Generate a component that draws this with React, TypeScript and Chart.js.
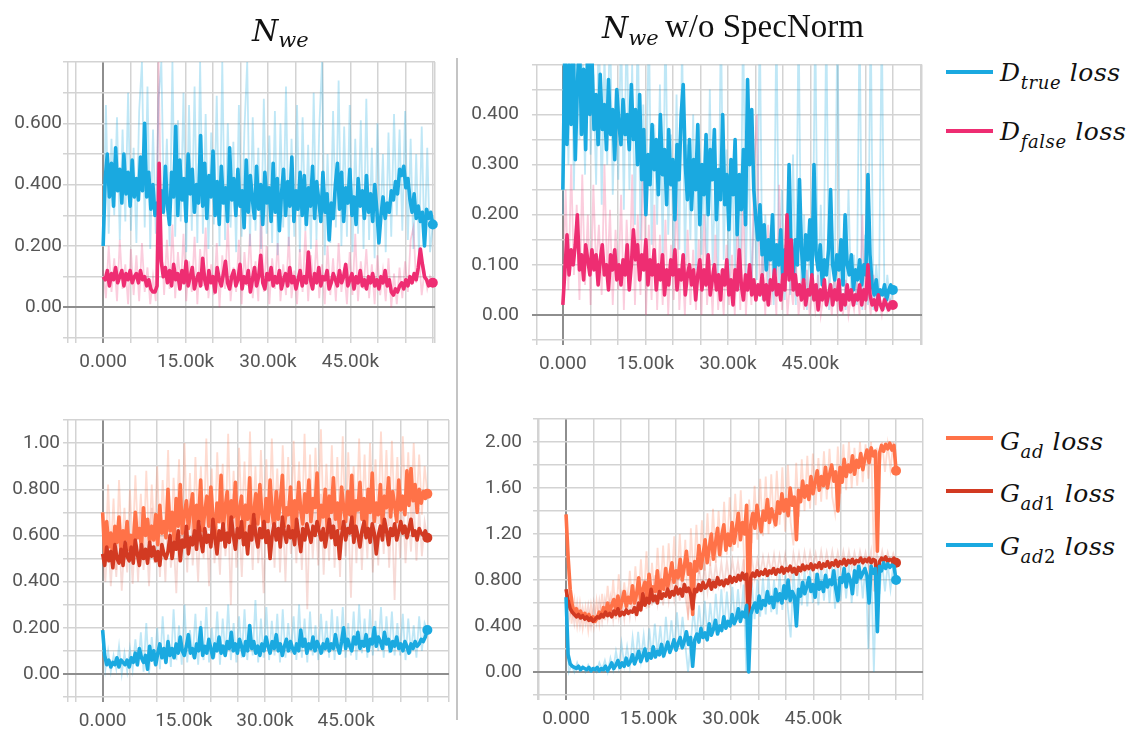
import React, { useEffect, useRef } from "react";
import { Chart, registerables } from "chart.js";

Chart.register(...registerables);

// ---------------- data ----------------
const X_END = 60000;
const X_TICK_VALUES = [0, 15000, 30000, 45000];
const X_TICK_LABELS = ["0.000", "15.00k", "30.00k", "45.00k"];

const P1_Y_VALUES = [0, 0.2, 0.4, 0.6];
const P1_Y_LABELS = ["0.00", "0.200", "0.400", "0.600"];
const P2_Y_VALUES = [0, 0.1, 0.2, 0.3, 0.4];
const P2_Y_LABELS = ["0.00", "0.100", "0.200", "0.300", "0.400"];
const P3_Y_VALUES = [0, 0.2, 0.4, 0.6, 0.8, 1.0];
const P3_Y_LABELS = ["0.00", "0.200", "0.400", "0.600", "0.800", "1.00"];
const P4_Y_VALUES = [0, 0.4, 0.8, 1.2, 1.6, 2.0];
const P4_Y_LABELS = ["0.00", "0.400", "0.800", "1.20", "1.60", "2.00"];

// Panel 1: N_we, D losses
const P1_TRUE_SMOOTH = [
  0.20, 0.42, 0.50, 0.36, 0.47, 0.33, 0.52, 0.38, 0.45, 0.34, 0.50, 0.37, 0.44, 0.33, 0.48, 0.36,
  0.42, 0.35, 0.49, 0.38, 0.60, 0.36, 0.44, 0.32, 0.40, 0.30, 0.34, 0.29, 0.38, 0.31, 0.46, 0.33,
  0.27, 0.44, 0.36, 0.59, 0.30, 0.48, 0.35, 0.42, 0.28, 0.50, 0.37, 0.45, 0.31, 0.40, 0.34, 0.56,
  0.33, 0.47, 0.29, 0.43, 0.36, 0.51, 0.30, 0.41, 0.27, 0.46, 0.34, 0.39, 0.28, 0.52, 0.35, 0.42,
  0.30, 0.45, 0.33, 0.38, 0.26, 0.48, 0.31, 0.43, 0.35, 0.29, 0.46, 0.32, 0.40, 0.27, 0.44, 0.34,
  0.39, 0.28, 0.47, 0.31, 0.42, 0.25, 0.37, 0.45, 0.30, 0.41, 0.33, 0.49, 0.28, 0.38, 0.32, 0.44,
  0.30, 0.43, 0.27, 0.39, 0.33, 0.46, 0.29, 0.41, 0.35, 0.28, 0.44, 0.31, 0.37, 0.22, 0.34, 0.29,
  0.40, 0.47, 0.32, 0.44, 0.28, 0.39, 0.34, 0.45, 0.30, 0.36, 0.27, 0.42, 0.33, 0.38, 0.29, 0.43,
  0.31, 0.37, 0.28, 0.40, 0.32, 0.21, 0.30, 0.36, 0.29, 0.34, 0.31, 0.38, 0.35, 0.41, 0.37, 0.45,
  0.43, 0.46, 0.39, 0.42, 0.35, 0.31, 0.37, 0.29, 0.33, 0.28, 0.31, 0.20, 0.32, 0.29, 0.31, 0.27,
];
const P1_FALSE_SMOOTH = [
  0.10, 0.09, 0.12, 0.07, 0.11, 0.09, 0.13, 0.08, 0.10, 0.12, 0.07, 0.11, 0.09, 0.12, 0.08, 0.10,
  0.11, 0.08, 0.12, 0.09, 0.10, 0.07, 0.09, 0.06, 0.05, 0.05, 0.07, 0.47, 0.15, 0.10, 0.13, 0.08,
  0.12, 0.07, 0.14, 0.09, 0.11, 0.06, 0.12, 0.08, 0.15, 0.07, 0.10, 0.13, 0.06, 0.09, 0.11, 0.07,
  0.16, 0.09, 0.06, 0.12, 0.08, 0.10, 0.05, 0.13, 0.09, 0.07, 0.11, 0.15, 0.08, 0.06, 0.10, 0.12,
  0.07, 0.09, 0.14, 0.06, 0.10, 0.08, 0.12, 0.05, 0.09, 0.13, 0.07, 0.10, 0.17, 0.08, 0.06, 0.11,
  0.09, 0.13, 0.07, 0.10, 0.08, 0.12, 0.06, 0.09, 0.11, 0.07, 0.13, 0.08, 0.10, 0.06, 0.09, 0.12,
  0.07, 0.10, 0.08, 0.18, 0.09, 0.06, 0.11, 0.08, 0.13, 0.07, 0.10, 0.09, 0.12, 0.06, 0.08, 0.11,
  0.09, 0.07, 0.12, 0.08, 0.10, 0.14, 0.07, 0.09, 0.11, 0.06, 0.10, 0.08, 0.12, 0.07, 0.09, 0.06,
  0.10, 0.08, 0.11, 0.07, 0.09, 0.06, 0.10, 0.08, 0.12, 0.07, 0.09, 0.05, 0.04, 0.06, 0.05, 0.07,
  0.08, 0.06, 0.09, 0.07, 0.10, 0.08, 0.11, 0.09, 0.13, 0.19, 0.14, 0.10, 0.09, 0.07, 0.08, 0.08,
];
const P1_TRUE_RAW = [
  0.20, 0.66, 0.24, 0.55, 0.30, 0.62, 0.22, 0.58, 0.28, 0.70, 0.25, 0.52,
  0.21, 0.64, 0.80, 0.26, 0.72, 0.19, 0.58, 0.24, 0.68, 0.80, 0.30, 0.55,
  0.20, 0.80, 0.23, 0.61, 0.28, 0.70, 0.18, 0.66, 0.25, 0.72, 0.21, 0.80,
  0.24, 0.63, 0.19, 0.57, 0.27, 0.69, 0.20, 0.80, 0.22, 0.60, 0.26, 0.54,
  0.18, 0.66, 0.23, 0.58, 0.80, 0.20, 0.62, 0.25, 0.52, 0.19, 0.68, 0.24,
  0.56, 0.21, 0.64, 0.17, 0.60, 0.26, 0.72, 0.20, 0.55, 0.23, 0.66, 0.18,
  0.62, 0.25, 0.53, 0.19, 0.70, 0.22, 0.58, 0.80, 0.17, 0.50, 0.21, 0.64,
  0.26, 0.74, 0.20, 0.59, 0.23, 0.66, 0.18, 0.55, 0.24, 0.61, 0.19, 0.68,
  0.22, 0.52, 0.16, 0.60, 0.25, 0.50, 0.18, 0.57, 0.23, 0.63, 0.30, 0.58,
  0.25, 0.64, 0.22, 0.55, 0.19, 0.50, 0.17, 0.59, 0.20, 0.52, 0.18, 0.27,
];
const P1_FALSE_RAW = [
  0.12, 0.03, 0.20, 0.05, 0.16, 0.02, 0.22, 0.06, 0.14, 0.01, 0.19, 0.04,
  0.17, 0.02, 0.21, 0.05, 0.13, 0.01, 0.10, 0.02, 0.80, 0.25, 0.04, 0.22,
  0.06, 0.27, 0.03, 0.18, 0.06, 0.24, 0.02, 0.15, 0.05, 0.23, 0.01, 0.19,
  0.07, 0.26, 0.03, 0.14, 0.04, 0.21, 0.00, 0.17, 0.06, 0.28, 0.02, 0.13,
  0.05, 0.22, 0.01, 0.18, 0.07, 0.24, 0.03, 0.15, 0.02, 0.30, 0.05, 0.20,
  0.01, 0.16, 0.06, 0.21, 0.02, 0.14, 0.04, 0.23, 0.03, 0.12, 0.01, 0.19,
  0.05, 0.25, 0.02, 0.17, 0.06, 0.22, 0.03, 0.14, 0.01, 0.20, 0.04, 0.16,
  0.02, 0.21, 0.05, 0.13, 0.01, 0.18, 0.04, 0.24, 0.02, 0.15, 0.06, 0.19,
  0.03, 0.14, 0.01, 0.17, 0.04, 0.12, 0.02, 0.16, 0.00, 0.11, 0.01, 0.13,
  0.03, 0.15, 0.05, 0.22, 0.26, 0.08, 0.17, 0.04, 0.12, 0.06, 0.10, 0.08,
];

// Panel 2: N_we w/o SpecNorm, D losses
const P2_TRUE_SMOOTH = [
  0.25, 0.55, 0.34, 0.50, 0.38, 0.55, 0.31, 0.46, 0.55, 0.36, 0.49, 0.33, 0.55, 0.40, 0.52, 0.37,
  0.44, 0.34, 0.48, 0.37, 0.42, 0.33, 0.47, 0.36, 0.41, 0.31, 0.45, 0.38, 0.34, 0.43, 0.36, 0.40,
  0.33, 0.46, 0.35, 0.41, 0.30, 0.44, 0.27, 0.37, 0.20, 0.32, 0.26, 0.38, 0.29, 0.35, 0.24, 0.40,
  0.28, 0.33, 0.22, 0.37, 0.26, 0.31, 0.19, 0.34, 0.27, 0.40, 0.46, 0.30, 0.23, 0.35, 0.21, 0.31,
  0.25, 0.38, 0.18, 0.30, 0.24, 0.36, 0.20, 0.33, 0.27, 0.37, 0.19, 0.29, 0.23, 0.40, 0.22, 0.28,
  0.17, 0.31, 0.24, 0.35, 0.16, 0.28, 0.21, 0.33, 0.18, 0.47, 0.30, 0.41, 0.25, 0.19, 0.15, 0.22,
  0.12, 0.18, 0.09, 0.15, 0.11, 0.20, 0.08, 0.14, 0.10, 0.17, 0.07, 0.13, 0.09, 0.30, 0.12, 0.08,
  0.15, 0.10, 0.27, 0.13, 0.07, 0.16, 0.11, 0.19, 0.08, 0.30, 0.12, 0.09, 0.14, 0.06, 0.11, 0.08,
  0.13, 0.25, 0.10, 0.07, 0.12, 0.09, 0.15, 0.06, 0.20, 0.10, 0.08, 0.12, 0.05, 0.09, 0.07, 0.11,
  0.06, 0.10, 0.08, 0.28, 0.12, 0.06, 0.04, 0.07, 0.03, 0.05, 0.04, 0.06, 0.03, 0.05, 0.06, 0.05,
];
const P2_FALSE_SMOOTH = [
  0.02, 0.09, 0.16, 0.08, 0.13, 0.10, 0.14, 0.20, 0.09, 0.12, 0.07, 0.14, 0.11, 0.08, 0.13, 0.09,
  0.12, 0.06, 0.11, 0.14, 0.08, 0.10, 0.05, 0.12, 0.09, 0.13, 0.07, 0.10, 0.06, 0.11, 0.08, 0.14,
  0.05, 0.10, 0.17, 0.11, 0.14, 0.07, 0.12, 0.09, 0.15, 0.06, 0.11, 0.08, 0.13, 0.05, 0.10, 0.07,
  0.12, 0.04, 0.09, 0.06, 0.11, 0.08, 0.13, 0.05, 0.09, 0.07, 0.12, 0.04, 0.08, 0.10, 0.06, 0.09,
  0.03, 0.08, 0.11, 0.05, 0.09, 0.06, 0.12, 0.04, 0.07, 0.10, 0.05, 0.08, 0.03, 0.09, 0.06, 0.11,
  0.04, 0.07, 0.02, 0.09, 0.05, 0.13, 0.06, 0.03, 0.08, 0.05, 0.10, 0.04, 0.07, 0.03, 0.06, 0.04,
  0.08, 0.03, 0.06, 0.02, 0.07, 0.05, 0.09, 0.04, 0.06, 0.03, 0.08, 0.05, 0.20, 0.07, 0.15, 0.05,
  0.08, 0.04, 0.06, 0.03, 0.07, 0.02, 0.05, 0.04, 0.08, 0.03, 0.06, 0.01, 0.05, 0.03, 0.07, 0.02,
  0.04, 0.06, 0.02, 0.05, 0.03, 0.07, 0.01, 0.04, 0.02, 0.06, 0.03, 0.05, 0.02, 0.04, 0.03, 0.06,
  0.02, 0.05, 0.03, 0.10, 0.04, 0.02, 0.03, 0.01, 0.04, 0.02, 0.01, 0.03, 0.02, 0.01, 0.02, 0.02,
];
const P2_TRUE_RAW = [
  0.20, 0.60, 0.30, 0.60, 0.25, 0.60, 0.35, 0.55, 0.28, 0.60, 0.32, 0.48,
  0.26, 0.60, 0.22, 0.52, 0.30, 0.60, 0.24, 0.45, 0.27, 0.58, 0.21, 0.60,
  0.25, 0.50, 0.18, 0.60, 0.15, 0.42, 0.20, 0.60, 0.14, 0.38, 0.18, 0.46,
  0.12, 0.60, 0.16, 0.36, 0.10, 0.44, 0.13, 0.55, 0.11, 0.34, 0.15, 0.40,
  0.09, 0.38, 0.12, 0.30, 0.08, 0.45, 0.10, 0.28, 0.07, 0.60, 0.11, 0.33,
  0.06, 0.30, 0.09, 0.26, 0.05, 0.60, 0.08, 0.35, 0.04, 0.22, 0.07, 0.60,
  0.03, 0.20, 0.06, 0.18, 0.02, 0.60, 0.05, 0.25, 0.03, 0.17, 0.04, 0.32,
  0.02, 0.60, 0.04, 0.20, 0.01, 0.15, 0.03, 0.60, 0.02, 0.22, 0.04, 0.60,
  0.01, 0.18, 0.03, 0.60, 0.02, 0.14, 0.01, 0.25, 0.03, 0.12, 0.02, 0.60,
  0.01, 0.16, 0.02, 0.60, 0.01, 0.10, 0.03, 0.60, 0.01, 0.08, 0.02, 0.05,
];
const P2_FALSE_RAW = [
  0.02, 0.25, 0.05, 0.30, 0.08, 0.22, 0.03, 0.28, 0.06, 0.20, 0.02, 0.26,
  0.09, 0.18, 0.04, 0.30, 0.07, 0.21, 0.02, 0.17, 0.05, 0.24, 0.01, 0.19,
  0.06, 0.28, 0.02, 0.20, 0.04, 0.35, 0.00, 0.18, 0.03, 0.22, 0.01, 0.16,
  0.02, 0.19, 0.00, 0.14, 0.03, 0.25, 0.01, 0.12, 0.00, 0.17, 0.02, 0.13,
  0.01, 0.15, 0.00, 0.20, 0.02, 0.11, 0.00, 0.16, 0.01, 0.09, 0.00, 0.14,
  0.02, 0.12, 0.00, 0.18, 0.01, 0.24, 0.00, 0.10, 0.02, 0.30, 0.40, 0.05,
  0.12, 0.00, 0.18, 0.02, 0.09, 0.00, 0.26, 0.01, 0.14, 0.00, 0.07, 0.02,
  0.11, 0.00, 0.06, 0.01, 0.09, 0.00, 0.05, 0.01, 0.08, 0.00, 0.04, 0.02,
  0.06, 0.00, 0.09, 0.01, 0.05, 0.00, 0.07, 0.00, 0.04, 0.01, 0.06, 0.00,
  0.20, 0.01, 0.05, 0.00, 0.08, 0.01, 0.03, 0.00, 0.05, 0.01, 0.03, 0.02,
];

// Panel 3: N_we, G losses
const P3_GAD_SMOOTH = [
  0.70, 0.52, 0.66, 0.55, 0.61, 0.50, 0.64, 0.57, 0.68, 0.53, 0.62, 0.58, 0.66, 0.54, 0.60, 0.56,
  0.70, 0.59, 0.63, 0.55, 0.72, 0.60, 0.67, 0.57, 0.64, 0.58, 0.69, 0.56, 0.73, 0.61, 0.66, 0.59,
  0.80, 0.62, 0.70, 0.58, 0.76, 0.64, 0.82, 0.61, 0.69, 0.75, 0.63, 0.71, 0.78, 0.60, 0.73, 0.66,
  0.84, 0.62, 0.70, 0.77, 0.64, 0.81, 0.68, 0.59, 0.74, 0.66, 0.86, 0.63, 0.72, 0.79, 0.61, 0.75,
  0.68, 0.83, 0.64, 0.71, 0.77, 0.60, 0.73, 0.67, 0.85, 0.62, 0.70, 0.78, 0.65, 0.82, 0.69, 0.61,
  0.76, 0.66, 0.84, 0.70, 0.63, 0.79, 0.67, 0.74, 0.86, 0.64, 0.72, 0.69, 0.81, 0.62, 0.75, 0.68,
  0.83, 0.71, 0.65, 0.78, 0.70, 0.84, 0.66, 0.76, 0.72, 0.87, 0.64, 0.73, 0.68, 0.80, 0.62, 0.77,
  0.70, 0.85, 0.67, 0.74, 0.63, 0.81, 0.72, 0.66, 0.79, 0.69, 0.86, 0.64, 0.75, 0.71, 0.83, 0.67,
  0.76, 0.62, 0.80, 0.70, 0.87, 0.66, 0.74, 0.69, 0.82, 0.64, 0.77, 0.72, 0.85, 0.68, 0.79, 0.73,
  0.66, 0.84, 0.71, 0.77, 0.69, 0.88, 0.73, 0.89, 0.75, 0.82, 0.70, 0.80, 0.74, 0.79, 0.76, 0.78,
];
const P3_GAD1_SMOOTH = [
  0.52, 0.47, 0.55, 0.49, 0.53, 0.46, 0.56, 0.50, 0.48, 0.54, 0.47, 0.57, 0.51, 0.49, 0.55, 0.48,
  0.58, 0.52, 0.47, 0.56, 0.50, 0.54, 0.48, 0.57, 0.51, 0.55, 0.49, 0.53, 0.47, 0.56, 0.52, 0.50,
  0.53, 0.60, 0.50, 0.57, 0.54, 0.62, 0.49, 0.58, 0.55, 0.64, 0.52, 0.59, 0.56, 0.62, 0.54, 0.66,
  0.58, 0.53, 0.63, 0.57, 0.60, 0.55, 0.67, 0.59, 0.52, 0.62, 0.58, 0.65, 0.55, 0.61, 0.57, 0.68,
  0.60, 0.54, 0.63, 0.59, 0.66, 0.56, 0.61, 0.52, 0.64, 0.58, 0.69, 0.60, 0.55, 0.63, 0.59, 0.66,
  0.57, 0.62, 0.50, 0.60, 0.65, 0.58, 0.63, 0.55, 0.68, 0.61, 0.57, 0.64, 0.59, 0.62, 0.56, 0.67,
  0.60, 0.53, 0.63, 0.58, 0.65, 0.61, 0.57, 0.64, 0.60, 0.66, 0.62, 0.58, 0.63, 0.55, 0.61, 0.67,
  0.59, 0.64, 0.56, 0.62, 0.50, 0.60, 0.66, 0.58, 0.63, 0.61, 0.68, 0.57, 0.64, 0.60, 0.55, 0.62,
  0.66, 0.59, 0.63, 0.57, 0.65, 0.61, 0.52, 0.60, 0.64, 0.58, 0.67, 0.62, 0.56, 0.63, 0.60, 0.65,
  0.58, 0.62, 0.66, 0.61, 0.64, 0.59, 0.63, 0.67, 0.60, 0.62, 0.58, 0.63, 0.61, 0.60, 0.62, 0.59,
];
const P3_GAD2_SMOOTH = [
  0.19, 0.08, 0.04, 0.06, 0.03, 0.05, 0.04, 0.07, 0.03, 0.06, 0.05, 0.04, 0.06, 0.03, 0.07, 0.05,
  0.09, 0.04, 0.11, 0.07, 0.05, 0.08, 0.02, 0.12, 0.06, 0.10, 0.04, 0.09, 0.13, 0.07, 0.11, 0.05,
  0.14, 0.08, 0.11, 0.07, 0.13, 0.09, 0.16, 0.10, 0.08, 0.12, 0.17, 0.09, 0.11, 0.07, 0.13, 0.10,
  0.20, 0.08, 0.12, 0.09, 0.15, 0.11, 0.07, 0.13, 0.10, 0.16, 0.09, 0.12, 0.08, 0.14, 0.11, 0.18,
  0.10, 0.13, 0.09, 0.15, 0.12, 0.08, 0.14, 0.10, 0.21, 0.11, 0.14, 0.09, 0.12, 0.08, 0.13, 0.10,
  0.16, 0.12, 0.09, 0.14, 0.11, 0.17, 0.10, 0.13, 0.08, 0.12, 0.15, 0.10, 0.14, 0.11, 0.09, 0.13,
  0.10, 0.19, 0.12, 0.15, 0.09, 0.13, 0.11, 0.16, 0.10, 0.14, 0.12, 0.09, 0.13, 0.11, 0.15, 0.10,
  0.13, 0.11, 0.17, 0.12, 0.09, 0.14, 0.20, 0.11, 0.15, 0.12, 0.10, 0.16, 0.13, 0.18, 0.11, 0.14,
  0.12, 0.17, 0.10, 0.15, 0.13, 0.20, 0.12, 0.16, 0.14, 0.11, 0.18, 0.13, 0.15, 0.10, 0.14, 0.12,
  0.16, 0.11, 0.13, 0.10, 0.14, 0.12, 0.09, 0.13, 0.11, 0.14, 0.12, 0.13, 0.15, 0.14, 0.16, 0.19,
];
const P3_GAD_RAW = [
  0.70, 0.48, 0.82, 0.52, 0.76, 0.45, 0.84, 0.55, 0.72, 0.50, 0.80, 0.54,
  0.86, 0.58, 0.78, 0.53, 0.88, 0.56, 0.82, 0.60, 0.90, 0.55, 0.84, 0.62,
  0.97, 0.54, 0.85, 0.63, 0.93, 0.57, 1.00, 0.61, 0.87, 0.55, 0.94, 0.64,
  0.90, 0.58, 1.02, 0.62, 0.89, 0.56, 0.96, 0.65, 0.91, 0.59, 1.04, 0.63,
  0.88, 0.57, 0.98, 0.66, 0.92, 0.60, 1.05, 0.64, 0.90, 0.58, 0.97, 0.67,
  0.93, 0.61, 1.02, 0.65, 0.89, 0.62, 0.99, 0.68, 0.94, 0.63, 1.01, 0.66,
  0.92, 0.60, 1.04, 0.64, 0.95, 0.62, 0.98, 0.66, 1.06, 0.63, 0.91, 0.67,
  0.99, 0.61, 0.94, 0.65, 1.03, 0.62, 0.96, 0.68, 0.90, 0.64, 1.02, 0.66,
  0.95, 0.63, 1.00, 0.67, 0.93, 0.65, 1.05, 0.69, 0.97, 0.64, 1.01, 0.68,
  0.94, 0.66, 1.03, 0.70, 0.96, 0.67, 1.00, 0.72, 0.95, 0.69, 0.90, 0.78,
];
const P3_GAD1_RAW = [
  0.52, 0.40, 0.60, 0.38, 0.58, 0.42, 0.63, 0.36, 0.57, 0.44, 0.61, 0.39,
  0.65, 0.40, 0.70, 0.45, 0.62, 0.38, 0.72, 0.48, 0.66, 0.42, 0.64, 0.40,
  0.74, 0.46, 0.58, 0.35, 0.71, 0.49, 0.68, 0.44, 0.76, 0.47, 0.63, 0.40,
  0.73, 0.50, 0.69, 0.38, 0.77, 0.48, 0.64, 0.43, 0.75, 0.51, 0.70, 0.30,
  0.78, 0.46, 0.67, 0.42, 0.74, 0.52, 0.71, 0.45, 0.79, 0.48, 0.62, 0.35,
  0.76, 0.50, 0.72, 0.46, 0.80, 0.44, 0.70, 0.40, 0.75, 0.52, 0.69, 0.48,
  0.77, 0.45, 0.73, 0.28, 0.76, 0.50, 0.71, 0.47, 0.78, 0.43, 0.72, 0.49,
  0.80, 0.46, 0.74, 0.42, 0.77, 0.51, 0.70, 0.33, 0.75, 0.48, 0.79, 0.45,
  0.73, 0.50, 0.78, 0.44, 0.71, 0.47, 0.76, 0.52, 0.80, 0.46, 0.72, 0.32,
  0.75, 0.50, 0.77, 0.48, 0.70, 0.53, 0.76, 0.49, 0.72, 0.51, 0.66, 0.59,
];
const P3_GAD2_RAW = [
  0.19, 0.02, 0.10, 0.01, 0.08, 0.02, 0.12, 0.00, 0.09, 0.01, 0.11, 0.02,
  0.15, 0.03, 0.18, 0.01, 0.22, 0.00, 0.16, 0.04, 0.20, 0.02, 0.25, 0.05,
  0.17, 0.03, 0.28, 0.06, 0.21, 0.04, 0.30, 0.05, 0.19, 0.07, 0.26, 0.04,
  0.23, 0.06, 0.29, 0.05, 0.20, 0.07, 0.27, 0.04, 0.24, 0.08, 0.30, 0.06,
  0.22, 0.05, 0.25, 0.07, 0.28, 0.06, 0.21, 0.08, 0.32, 0.05, 0.24, 0.07,
  0.29, 0.06, 0.23, 0.08, 0.26, 0.05, 0.28, 0.07, 0.22, 0.09, 0.25, 0.06,
  0.30, 0.07, 0.24, 0.05, 0.27, 0.08, 0.21, 0.06, 0.26, 0.09, 0.23, 0.07,
  0.28, 0.06, 0.25, 0.09, 0.29, 0.07, 0.22, 0.08, 0.27, 0.06, 0.30, 0.09,
  0.24, 0.07, 0.28, 0.08, 0.23, 0.10, 0.29, 0.07, 0.25, 0.09, 0.27, 0.08,
  0.22, 0.08, 0.26, 0.06, 0.24, 0.09, 0.21, 0.07, 0.25, 0.10, 0.22, 0.19,
];

// Panel 4: N_we w/o SpecNorm, G losses
const P4_GAD_SMOOTH = [
  1.37, 1.00, 0.72, 0.58, 0.52, 0.55, 0.49, 0.53, 0.48, 0.51, 0.47, 0.50, 0.45, 0.48, 0.44, 0.47,
  0.52, 0.48, 0.56, 0.50, 0.60, 0.52, 0.58, 0.63, 0.53, 0.66, 0.55, 0.62, 0.70, 0.57, 0.65, 0.60,
  0.75, 0.60, 0.68, 0.82, 0.62, 0.72, 0.78, 0.64, 0.85, 0.68, 0.74, 0.70, 0.88, 0.66, 0.80, 0.72,
  0.90, 0.74, 0.84, 0.95, 0.78, 0.88, 0.82, 0.98, 0.80, 0.92, 1.05, 0.85, 0.94, 0.50, 0.96, 0.88,
  1.10, 0.90, 1.02, 1.15, 0.95, 1.08, 1.20, 0.98, 1.12, 1.25, 1.02, 1.18, 1.28, 1.06, 1.20, 1.10,
  1.30, 1.12, 1.24, 1.38, 1.15, 1.30, 1.20, 1.45, 0.45, 1.28, 1.38, 1.25, 1.45, 1.32, 1.22, 1.40,
  1.32, 1.50, 1.30, 1.42, 1.35, 1.28, 1.48, 1.38, 1.55, 1.40, 1.50, 1.36, 1.60, 1.45, 1.52, 1.15,
  1.58, 1.48, 1.66, 1.52, 1.62, 1.50, 1.70, 1.55, 1.65, 1.75, 1.58, 1.70, 1.62, 1.78, 1.60, 1.72,
  1.80, 1.66, 1.74, 1.40, 1.78, 1.65, 1.85, 1.70, 1.80, 1.74, 1.88, 1.72, 1.84, 1.78, 1.90, 1.76,
  1.86, 1.93, 1.82, 1.95, 1.88, 1.92, 1.05, 1.90, 1.97, 1.92, 1.98, 1.94, 1.99, 1.93, 1.97, 1.75,
];
const P4_GAD1_SMOOTH = [
  0.72, 0.62, 0.55, 0.52, 0.50, 0.48, 0.50, 0.47, 0.49, 0.46, 0.48, 0.45, 0.47, 0.44, 0.46, 0.48,
  0.47, 0.50, 0.48, 0.52, 0.49, 0.51, 0.48, 0.53, 0.50, 0.55, 0.49, 0.52, 0.50, 0.54, 0.51, 0.53,
  0.52, 0.56, 0.50, 0.60, 0.54, 0.68, 0.58, 0.64, 0.60, 0.72, 0.62, 0.66, 0.60, 0.70, 0.64, 0.68,
  0.66, 0.72, 0.65, 0.70, 0.67, 0.74, 0.68, 0.72, 0.66, 0.76, 0.70, 0.73, 0.68, 0.55, 0.72, 0.70,
  0.76, 0.71, 0.78, 0.73, 0.75, 0.80, 0.72, 0.78, 0.74, 0.82, 0.76, 0.79, 0.75, 0.80, 0.77, 0.83,
  0.78, 0.82, 0.79, 0.84, 0.80, 0.86, 0.81, 0.85, 0.45, 0.82, 0.86, 0.83, 0.88, 0.84, 0.87, 0.85,
  0.89, 0.84, 0.88, 0.86, 0.90, 0.85, 0.89, 0.87, 0.91, 0.86, 0.90, 0.88, 0.92, 0.87, 0.90, 0.85,
  0.91, 0.88, 0.93, 0.89, 0.92, 0.90, 0.94, 0.89, 0.93, 0.91, 0.95, 0.90, 0.94, 0.92, 0.96, 0.91,
  0.95, 0.93, 0.97, 0.92, 0.96, 0.94, 0.98, 0.93, 0.97, 0.95, 0.98, 0.94, 0.97, 0.96, 0.99, 0.95,
  0.98, 0.96, 0.99, 0.95, 0.98, 0.97, 0.70, 0.96, 0.99, 0.97, 1.00, 0.96, 0.98, 0.97, 0.99, 0.95,
];
const P4_GAD2_SMOOTH = [
  0.65, 0.15, 0.07, 0.05, 0.04, 0.03, 0.05, 0.02, 0.04, 0.03, 0.02, 0.04, 0.01, 0.03, 0.02, 0.04,
  0.01, 0.03, 0.02, 0.05, 0.01, 0.04, 0.08, 0.03, 0.06, 0.10, 0.04, 0.08, 0.05, 0.12, 0.06, 0.09,
  0.15, 0.07, 0.12, 0.18, 0.09, 0.14, 0.20, 0.10, 0.16, 0.12, 0.22, 0.13, 0.18, 0.15, 0.24, 0.14,
  0.20, 0.26, 0.17, 0.22, 0.28, 0.19, 0.25, 0.30, 0.21, 0.27, 0.35, 0.24, 0.30, 0.05, 0.28, 0.33,
  0.26, 0.38, 0.30, 0.34, 0.28, 0.42, 0.32, 0.37, 0.45, 0.33, 0.40, 0.36, 0.48, 0.38, 0.44, 0.40,
  0.50, 0.42, 0.46, 0.55, 0.44, 0.52, 0.48, 0.58, 0.00, 0.50, 0.56, 0.60, 0.52, 0.66, 0.55, 0.62,
  0.58, 0.70, 0.60, 0.65, 0.56, 0.72, 0.62, 0.68, 0.60, 0.75, 0.64, 0.80, 0.62, 0.70, 0.66, 0.40,
  0.72, 0.66, 0.78, 0.68, 0.74, 0.82, 0.70, 0.76, 0.65, 0.85, 0.72, 0.78, 0.70, 0.84, 0.74, 0.80,
  0.76, 0.88, 0.72, 0.62, 0.82, 0.78, 0.90, 0.74, 0.85, 0.80, 0.68, 0.88, 0.78, 0.92, 0.82, 0.86,
  0.90, 0.84, 0.60, 0.92, 0.86, 0.90, 0.35, 0.92, 0.88, 0.95, 0.90, 0.94, 0.91, 0.93, 0.92, 0.80,
];
const P4_GAD_RAW = [
  1.37, 0.75, 0.42, 0.62, 0.40, 0.60, 0.38, 0.56, 0.36, 0.58, 0.40, 0.62,
  0.42, 0.68, 0.45, 0.75, 0.48, 0.80, 0.46, 0.85, 0.50, 0.78, 0.52, 0.88,
  0.55, 0.92, 0.58, 0.98, 0.60, 1.05, 0.56, 0.95, 0.62, 1.08, 0.66, 1.10,
  0.68, 1.12, 0.72, 1.18, 0.70, 1.20, 0.75, 1.15, 0.45, 1.25, 0.80, 1.28,
  0.85, 1.32, 0.88, 1.38, 0.92, 1.42, 0.95, 1.40, 1.00, 1.48, 1.02, 1.52,
  1.05, 1.55, 1.08, 1.58, 1.10, 0.42, 1.50, 1.12, 1.62, 1.15, 1.68, 1.18,
  1.70, 1.20, 1.72, 1.25, 1.75, 1.28, 1.78, 1.22, 1.80, 1.30, 1.10, 1.82,
  1.35, 1.85, 1.40, 1.88, 1.42, 1.90, 1.45, 1.86, 1.48, 1.92, 1.50, 1.94,
  1.52, 1.38, 1.96, 1.55, 1.98, 1.58, 2.00, 1.60, 1.95, 1.62, 2.00, 1.65,
  1.98, 1.68, 2.00, 1.00, 1.95, 1.72, 2.00, 1.74, 1.98, 1.76, 2.00, 1.75,
];
const P4_GAD1_RAW = [
  0.72, 0.45, 0.58, 0.42, 0.60, 0.40, 0.56, 0.42, 0.58, 0.40, 0.60, 0.43,
  0.62, 0.44, 0.63, 0.46, 0.65, 0.45, 0.64, 0.47, 0.66, 0.46, 0.68, 0.48,
  0.70, 0.50, 0.76, 0.52, 0.80, 0.55, 0.82, 0.58, 0.84, 0.60, 0.82, 0.58,
  0.85, 0.62, 0.86, 0.64, 0.88, 0.62, 0.87, 0.65, 0.50, 0.68, 0.88, 0.70,
  0.90, 0.72, 0.92, 0.70, 0.93, 0.74, 0.94, 0.76, 0.95, 0.75, 0.96, 0.78,
  0.97, 0.80, 0.96, 0.78, 0.98, 0.45, 0.80, 0.99, 0.82, 0.98, 0.84, 1.00,
  0.85, 1.00, 0.86, 1.02, 0.84, 1.01, 0.86, 1.02, 0.87, 0.80, 1.03, 0.88,
  1.03, 0.88, 1.04, 0.89, 1.04, 0.90, 1.03, 0.89, 1.05, 0.90, 1.04, 0.91,
  1.05, 0.90, 1.04, 0.91, 1.05, 0.92, 1.05, 0.91, 1.04, 0.92, 1.05, 0.93,
  1.04, 0.92, 1.05, 0.70, 1.04, 0.93, 1.05, 0.92, 1.04, 0.94, 1.03, 0.95,
];
const P4_GAD2_RAW = [
  0.65, 0.00, 0.06, 0.00, 0.08, 0.01, 0.05, 0.00, 0.06, 0.01, 0.04, 0.00,
  0.08, 0.02, 0.10, 0.00, 0.12, 0.02, 0.18, 0.04, 0.25, 0.06, 0.22, 0.05,
  0.30, 0.08, 0.35, 0.10, 0.32, 0.08, 0.38, 0.12, 0.42, 0.15, 0.40, 0.12,
  0.48, 0.18, 0.45, 0.20, 0.52, 0.22, 0.48, 0.24, 0.00, 0.26, 0.55, 0.28,
  0.58, 0.30, 0.62, 0.32, 0.60, 0.34, 0.68, 0.36, 0.72, 0.38, 0.70, 0.40,
  0.74, 0.42, 0.72, 0.44, 0.76, 0.00, 0.45, 0.78, 0.46, 0.80, 0.48, 0.82,
  0.50, 0.84, 0.52, 0.80, 0.50, 0.86, 0.54, 0.84, 0.55, 0.30, 0.88, 0.56,
  0.86, 0.58, 0.88, 0.57, 0.90, 0.60, 0.86, 0.58, 0.92, 0.62, 0.90, 0.60,
  0.92, 0.55, 0.94, 0.62, 0.92, 0.64, 0.95, 0.60, 0.93, 0.66, 0.95, 0.64,
  0.94, 0.20, 0.95, 0.00, 0.92, 0.68, 0.95, 0.70, 0.94, 0.72, 0.93, 0.80,
];

// ---------------- styles ----------------
const BLUE = "#1aa9e0";
const PINK = "#ee2d72";
const ORANGE = "#ff7248";
const DARKRED = "#d23a22";
const BLUE_RAW = "rgba(26,169,224,0.28)";
const PINK_RAW = "rgba(238,45,114,0.24)";
const ORANGE_RAW = "rgba(255,114,72,0.26)";
const DARKRED_RAW = "rgba(210,58,34,0.18)";
const GRID_COLOR = "#d3d3d3";
const ZERO_COLOR = "#8e8e8e";
const TICK_COLOR = "#555555";

type SeriesCfg = { smooth: number[]; raw: number[]; color: string; rawColor: string; z: number };
type PanelCfg = {
  left: number; top: number; width: number; height: number;
  yWidth: number; xHeight: number; padTop: number; padRight: number; yPad: number;
  xMin: number; xMax: number; yMin: number; yMax: number; yStep: number;
  yValues: number[]; yLabels: string[]; series: SeriesCfg[];
};

const PANELS: PanelCfg[] = [
  {
    left: 0, top: 40, width: 450, height: 340, yWidth: 68, xHeight: 42, padTop: 22, padRight: 15, yPad: 1,
    xMin: -6400, xMax: 60400, yMin: -0.1, yMax: 0.8, yStep: 0.1,
    yValues: P1_Y_VALUES, yLabels: P1_Y_LABELS,
    series: [
      { smooth: P1_TRUE_SMOOTH, raw: P1_TRUE_RAW, color: BLUE, rawColor: BLUE_RAW, z: 2 },
      { smooth: P1_FALSE_SMOOTH, raw: P1_FALSE_RAW, color: PINK, rawColor: PINK_RAW, z: 1 },
    ],
  },
  {
    left: 465, top: 40, width: 470, height: 345, yWidth: 72, xHeight: 45, padTop: 20, padRight: 13, yPad: 13,
    xMin: -4700, xMax: 65300, yMin: -0.05, yMax: 0.5, yStep: 0.05,
    yValues: P2_Y_VALUES, yLabels: P2_Y_LABELS,
    series: [
      { smooth: P2_TRUE_SMOOTH, raw: P2_TRUE_RAW, color: BLUE, rawColor: BLUE_RAW, z: 2 },
      { smooth: P2_FALSE_SMOOTH, raw: P2_FALSE_RAW, color: PINK, rawColor: PINK_RAW, z: 1 },
    ],
  },
  {
    left: 0, top: 395, width: 457, height: 334, yWidth: 68, xHeight: 32, padTop: 25, padRight: 2, yPad: 3,
    xMin: -6400, xMax: 64000, yMin: -0.1, yMax: 1.1, yStep: 0.1,
    yValues: P3_Y_VALUES, yLabels: P3_Y_LABELS,
    series: [
      { smooth: P3_GAD_SMOOTH, raw: P3_GAD_RAW, color: ORANGE, rawColor: ORANGE_RAW, z: 3 },
      { smooth: P3_GAD1_SMOOTH, raw: P3_GAD1_RAW, color: DARKRED, rawColor: DARKRED_RAW, z: 2 },
      { smooth: P3_GAD2_SMOOTH, raw: P3_GAD2_RAW, color: BLUE, rawColor: BLUE_RAW, z: 1 },
    ],
  },
  {
    left: 465, top: 395, width: 470, height: 334, yWidth: 73, xHeight: 34, padTop: 24, padRight: 12, yPad: 11,
    xMin: -5100, xMax: 64900, yMin: -0.2, yMax: 2.2, yStep: 0.2,
    yValues: P4_Y_VALUES, yLabels: P4_Y_LABELS,
    series: [
      { smooth: P4_GAD_SMOOTH, raw: P4_GAD_RAW, color: ORANGE, rawColor: ORANGE_RAW, z: 3 },
      { smooth: P4_GAD1_SMOOTH, raw: P4_GAD1_RAW, color: DARKRED, rawColor: DARKRED_RAW, z: 2 },
      { smooth: P4_GAD2_SMOOTH, raw: P4_GAD2_RAW, color: BLUE, rawColor: BLUE_RAW, z: 1 },
    ],
  },
];

const LEGEND_ITEMS = [
  { main: "D", sub: "true", color: BLUE, lineY: 72, baseline: 81 },
  { main: "D", sub: "false", color: PINK, lineY: 131, baseline: 140 },
  { main: "G", sub: "ad", color: ORANGE, lineY: 438, baseline: 450 },
  { main: "G", sub: "ad1", color: DARKRED, lineY: 491, baseline: 502 },
  { main: "G", sub: "ad2", color: BLUE, lineY: 545, baseline: 555 },
];

function toXY(values: number[]) {
  const n = values.length;
  return values.map((v, i) => ({ x: (i * X_END) / (n - 1), y: v }));
}

// grid positions: the two bounds plus every multiple of step in between
function gridTicks(min: number, max: number, step: number) {
  const out = [{ value: min }];
  const k0 = Math.ceil(min / step - 1e-9);
  const k1 = Math.floor(max / step + 1e-9);
  for (let k = k0; k <= k1; k++) {
    const v = Math.round(k * step * 1e6) / 1e6;
    if (v > min + step * 1e-3 && v < max - step * 1e-3) out.push({ value: v });
  }
  out.push({ value: max });
  return out;
}

function labelFor(v: number, values: number[], labels: string[]) {
  for (let i = 0; i < values.length; i++) {
    if (Math.abs(v - values[i]) < 1e-6) return labels[i];
  }
  return "";
}

const isZero = (ctx: any) => ctx.tick && Math.abs(ctx.tick.value) < 1e-9;
const gridColor = (ctx: any) => (isZero(ctx) ? ZERO_COLOR : GRID_COLOR);
const gridWidth = (ctx: any) => (isZero(ctx) ? 2 : 1.5);

function Panel({ cfg }: { cfg: PanelCfg }) {
  const ref = useRef<HTMLCanvasElement | null>(null);
  useEffect(() => {
    if (!ref.current) return;
    const datasets: any[] = [];
    cfg.series.forEach((s) => {
      const last = s.smooth.length - 1;
      datasets.push({
        data: toXY(s.smooth),
        borderColor: s.color,
        backgroundColor: s.color,
        borderWidth: 3.6,
        borderJoinStyle: "round",
        tension: 0,
        pointRadius: (c: any) => (c.dataIndex === last ? 5 : 0),
        pointBackgroundColor: s.color,
        pointBorderWidth: 0,
        pointHoverRadius: 0,
        order: s.z,
        clip: { left: 0, top: 1, right: 10, bottom: 0 },
      });
      datasets.push({
        data: toXY(s.raw),
        borderColor: s.rawColor,
        borderWidth: 1.8,
        tension: 0,
        pointRadius: 0,
        order: 10 + s.z,
        clip: 0,
      });
    });
    const tickFont = { family: "Roboto", size: 19 };
    const chart = new Chart(ref.current, {
      type: "line",
      data: { datasets },
      options: {
        responsive: false,
        animation: false,
        events: [],
        layout: { padding: { top: cfg.padTop, right: cfg.padRight, left: 0, bottom: 0 } },
        plugins: { legend: { display: false }, tooltip: { enabled: false } },
        scales: {
          x: {
            type: "linear",
            min: cfg.xMin,
            max: cfg.xMax,
            afterBuildTicks: (sc: any) => { sc.ticks = gridTicks(cfg.xMin, cfg.xMax, 5000); },
            afterFit: (sc: any) => { sc.height = cfg.xHeight; },
            grid: { color: gridColor, lineWidth: gridWidth, tickLength: 5, drawTicks: true },
            border: { display: false },
            ticks: {
              autoSkip: false,
              maxRotation: 0,
              minRotation: 0,
              padding: 8,
              color: TICK_COLOR,
              font: tickFont,
              callback: (v: any) => labelFor(Number(v), X_TICK_VALUES, X_TICK_LABELS),
            },
          },
          y: {
            type: "linear",
            min: cfg.yMin,
            max: cfg.yMax,
            afterBuildTicks: (sc: any) => { sc.ticks = gridTicks(cfg.yMin, cfg.yMax, cfg.yStep); },
            afterFit: (sc: any) => { sc.width = cfg.yWidth; },
            grid: { color: gridColor, lineWidth: gridWidth, tickLength: 5, drawTicks: true },
            border: { display: false },
            ticks: {
              autoSkip: false,
              padding: cfg.yPad,
              color: TICK_COLOR,
              font: tickFont,
              callback: (v: any) => labelFor(Number(v), cfg.yValues, cfg.yLabels),
            },
          },
        },
      } as any,
    });
    return () => chart.destroy();
  }, []);
  return (
    <canvas
      ref={ref}
      width={cfg.width}
      height={cfg.height}
      style={{ position: "absolute", left: cfg.left, top: cfg.top, width: cfg.width, height: cfg.height }}
    />
  );
}

const MATH_FONT = "'DejaVu Serif', serif";

function SubText({ text, size, offset }: { text: string; size: number; offset: number }) {
  const parts = text.match(/[0-9]+|[^0-9]+/g) || [];
  return (
    <span style={{ fontSize: size, position: "relative", top: offset }}>
      {parts.map((p, i) => (
        <span key={i} style={{ fontStyle: /[0-9]/.test(p) ? "normal" : "italic" }}>{p}</span>
      ))}
    </span>
  );
}

export default function App() {
  return (
    <div
      style={{
        position: "absolute", left: 0, top: 0, width: 1140, height: 729,
        background: "#ffffff", overflow: "hidden",
      }}
    >
      {PANELS.map((p, i) => (
        <Panel key={i} cfg={p} />
      ))}

      {/* separator */}
      <div style={{ position: "absolute", left: 456, top: 58, width: 2, height: 662, background: "#c4c4c4" }} />

      {/* titles */}
      <div
        style={{
          position: "absolute", left: 252, top: 16, fontFamily: MATH_FONT, fontStyle: "italic",
          fontSize: 30, lineHeight: "30px", whiteSpace: "nowrap", color: "#111",
        }}
      >
        N<SubText text="we" size={21} offset={6} />
      </div>
      <div
        style={{
          position: "absolute", left: 602, top: 13, fontFamily: MATH_FONT, fontStyle: "italic",
          fontSize: 30, lineHeight: "30px", whiteSpace: "nowrap", color: "#111",
        }}
      >
        N<SubText text="we" size={21} offset={7} />
      </div>
      <div
        style={{
          position: "absolute", left: 665, top: 10, fontFamily: "'Liberation Serif', serif",
          fontSize: 33, lineHeight: "33px", whiteSpace: "nowrap", color: "#111",
        }}
      >
        w/o SpecNorm
      </div>

      {/* legends */}
      {LEGEND_ITEMS.map((it, i) => (
        <React.Fragment key={i}>
          <div
            style={{
              position: "absolute", left: 946, top: it.lineY - 2, width: 47, height: 4,
              background: it.color,
            }}
          />
          <div
            style={{
              position: "absolute", left: 1000, top: it.baseline - 21, fontFamily: MATH_FONT,
              fontStyle: "italic", fontSize: 25, lineHeight: "25px", whiteSpace: "nowrap",
              color: "#111", letterSpacing: 0.6,
            }}
          >
            {it.main}
            <SubText text={it.sub} size={18} offset={8} /> loss
          </div>
        </React.Fragment>
      ))}
    </div>
  );
}
